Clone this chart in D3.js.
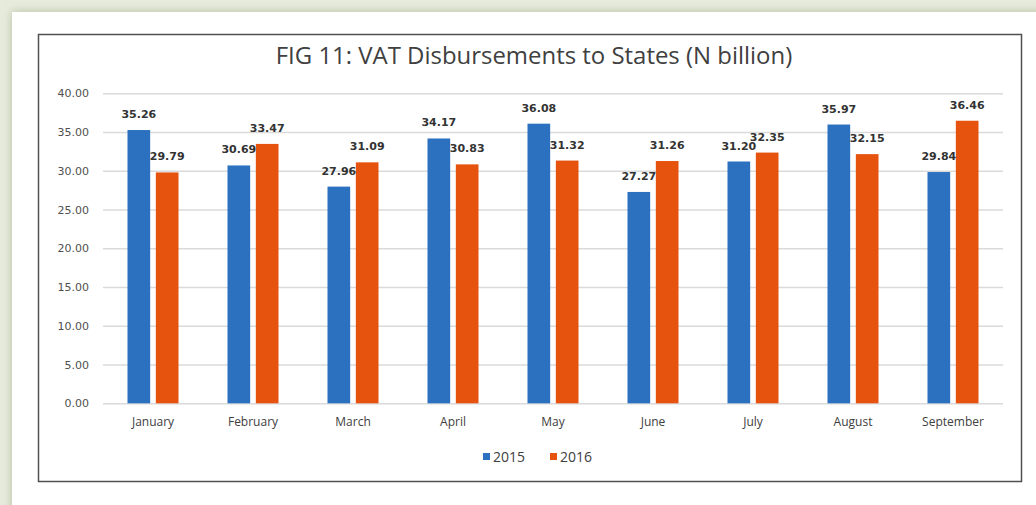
<!DOCTYPE html>
<html>
<head>
<meta charset="utf-8">
<script src="https://cdn.jsdelivr.net/npm/d3@7"></script>
<style>
  html, body { margin: 0; padding: 0; background: #e6ebdc; }
  svg { display: block; }
</style>
</head>
<body>
<svg id="svg0"></svg>
<script>
// data
let months = ['January', 'February', 'March', 'April', 'May', 'June', 'July', 'August', 'September'];
let seriesNames = ['2015', '2016'];
let vat2015 = [35.26, 30.69, 27.96, 34.17, 36.08, 27.27, 31.20, 35.97, 29.84];
let vat2016 = [29.79, 33.47, 31.09, 30.83, 31.32, 31.26, 32.35, 32.15, 36.46];
let yTicks = [0, 5, 10, 15, 20, 25, 30, 35, 40];

let width = 1036;
let height = 505;
let plot = {left: 103, right: 1003, top: 93.3, bottom: 403.3};

let svg = d3.select('#svg0').attr('width', width).attr('height', height);

// page background + white panel with soft shadow
let defs = svg.append('defs');
let f = defs.append('filter').attr('id', 'shadow').attr('x', '-5%').attr('y', '-10%').attr('width', '110%').attr('height', '120%');
f.append('feGaussianBlur').attr('in', 'SourceAlpha').attr('stdDeviation', 5);
f.append('feOffset').attr('dx', 0).attr('dy', 0).attr('result', 'blur');
f.append('feFlood').attr('flood-color', '#8a9a70').attr('flood-opacity', 0.55);
f.append('feComposite').attr('in2', 'blur').attr('operator', 'in');
let fm = f.append('feMerge');
fm.append('feMergeNode');
fm.append('feMergeNode').attr('in', 'SourceGraphic');

svg.append('rect').attr('width', width).attr('height', height).style('fill', '#e6ebdc');
svg.append('rect').attr('x', 12).attr('y', 12).attr('width', width + 20).attr('height', height + 20)
    .style('fill', '#ffffff').attr('filter', 'url(#shadow)');

// chart frame
svg.append('rect').attr('x', 38.5).attr('y', 34.5).attr('width', 983).attr('height', 447)
    .style('fill', '#ffffff').style('stroke', '#505050').style('stroke-width', 1.5);

let chartData = months.map((m, i) => ({month: m, values: [
    {series: '2015', value: vat2015[i]},
    {series: '2016', value: vat2016[i]}
]}));

// scales
let x0 = d3.scaleBand().domain(months).range([plot.left, plot.right]).padding(0);
let groupWidth = 51;
let x1 = d3.scaleBand().domain(seriesNames).range([0, groupWidth]).paddingInner(0.2);
let yScale = d3.scaleLinear().domain([0, 40]).range([plot.bottom, plot.top]);
let colorScale = d3.scaleOrdinal().domain(seriesNames).range(['#2b71bf', '#e5530f']);
let fmt = d3.format('.2f');

// gridlines
svg.append('g').attr('class', 'grid')
    .attr('transform', 'translate(' + plot.left + ',0)')
    .call(d3.axisLeft(yScale).tickValues(yTicks).tickSize(-(plot.right - plot.left)).tickFormat(''))
    .call(g => g.select('.domain').remove())
    .selectAll('line').style('stroke', '#dadada').style('stroke-width', 1.5);

// y axis labels
svg.append('g')
    .attr('transform', 'translate(89,0)')
    .call(d3.axisLeft(yScale).tickValues(yTicks).tickSize(0).tickPadding(0).tickFormat(fmt))
    .call(g => g.select('.domain').remove())
    .selectAll('text')
        .style('font-family', 'DejaVu Sans').style('font-size', '11px').style('fill', '#505050');

// x axis labels
svg.append('g')
    .attr('transform', 'translate(0,' + plot.bottom + ')')
    .call(d3.axisBottom(x0).tickSize(0).tickPadding(14))
    .call(g => g.select('.domain').remove())
    .selectAll('text')
        .style('font-family', 'Open Sans').style('font-size', '12px').style('fill', '#404040');

// bars
let groups = svg.selectAll('.month').data(chartData).enter().append('g')
    .attr('class', 'month')
    .attr('transform', d => 'translate(' + (x0(d.month) + (x0.bandwidth() - groupWidth) / 2) + ',0)');

groups.selectAll('rect').data(d => d.values).enter().append('rect')
    .attr('x', d => x1(d.series))
    .attr('y', d => yScale(d.value))
    .attr('width', x1.bandwidth())
    .attr('height', d => yScale(0) - yScale(d.value))
    .style('fill', d => colorScale(d.series));

// data labels
groups.selectAll('.lbl').data(d => d.values).enter().append('text')
    .attr('class', 'lbl')
    .attr('x', d => x1(d.series) + x1.bandwidth() / 2)
    .attr('y', d => yScale(d.value) - 12)
    .attr('text-anchor', 'middle')
    .text(d => fmt(d.value))
    .style('font-family', 'DejaVu Sans').style('font-weight', 'bold').style('font-size', '11px').style('fill', '#333333');

// title
let title = svg.append('text')
    .attr('x', 534).attr('y', 64)
    .attr('text-anchor', 'middle')
    .text('FIG 11: VAT Disbursements to States (N billion)')
    .style('font-family', 'Open Sans').style('font-size', '20px').style('fill', '#404040');
let tw = title.node().getComputedTextLength();
title.style('font-size', (20 * 517 / tw) + 'px');

// legend
let legend = svg.append('g').attr('transform', 'translate(483,457)');
let legendX = [0, 67];
seriesNames.forEach((s, i) => {
    legend.append('rect').attr('x', legendX[i]).attr('y', -4).attr('width', 7).attr('height', 7)
        .style('fill', colorScale(s));
    legend.append('text').attr('x', legendX[i] + 10).attr('y', 5).text(s)
        .style('font-family', 'Open Sans').style('font-size', '14px').style('fill', '#404040');
});
</script>
</body>
</html>
